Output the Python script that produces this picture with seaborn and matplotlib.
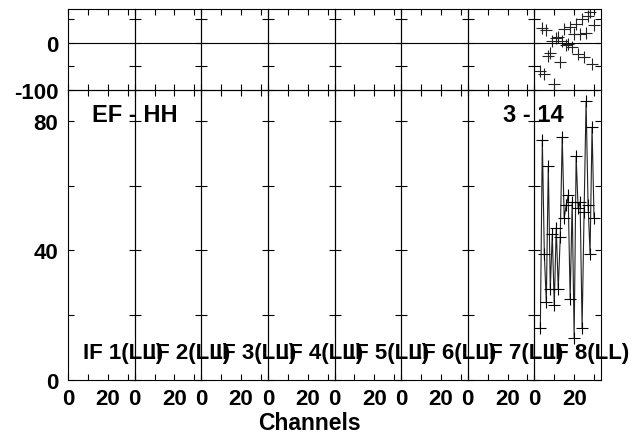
import numpy as np
import pandas as pd
import seaborn as sns
import matplotlib.pyplot as plt
from matplotlib.ticker import MultipleLocator

# Data (only IF 8 has data)
channels = [3, 4, 5, 6, 7, 8, 9, 10, 11, 12, 13, 14, 15, 16, 17, 18, 19, 20,
            21, 22, 23, 24, 25, 26, 27, 28, 29, 30]
amplitude = [16, 74, 39, 24, 66, 28, 45, 23, 47, 28, 44, 75, 50, 54, 57, 25,
             55, 13, 69, 53, 55, 16, 52, 86, 54, 39, 78, 50]
phase = [-60, 32, -66, 28, -27, -22, 5, -87, 10, 13, -40, 3, 30, -5, -2, 33,
         -9, 18, 40, -23, 18, 51, -30, 20, 58, 65, -45, 37]
if_labels = ['IF 1(LL)', 'IF 2(LL)', 'IF 3(LL)', 'IF 4(LL)',
             'IF 5(LL)', 'IF 6(LL)', 'IF 7(LL)', 'IF 8(LL)']

df = pd.DataFrame({'channel': channels, 'amp': amplitude, 'phase': phase})

sns.set_theme(style='ticks')
plt.rcParams['font.family'] = ['Liberation Sans', 'DejaVu Sans']
plt.rcParams['font.weight'] = 'bold'
plt.rcParams['axes.unicode_minus'] = False
for k in ('text.color', 'axes.labelcolor', 'xtick.color', 'ytick.color'):
    plt.rcParams[k] = 'black'

fig = plt.figure(figsize=(6.39, 4.35), dpi=100)
gs = fig.add_gridspec(2, 8, height_ratios=[81, 290],
                      left=68/639, right=601/639, top=1-10/435, bottom=1-381/435,
                      wspace=0, hspace=0)

fs = 16
for i, lab in enumerate(if_labels):
    axp = fig.add_subplot(gs[0, i])
    axa = fig.add_subplot(gs[1, i])
    for ax in (axp, axa):
        ax.patch.set_visible(False)
        ax.set_xlim(0, 33.5)
        ax.xaxis.set_major_locator(MultipleLocator(20))
        ax.xaxis.set_minor_locator(MultipleLocator(10))
        ax.tick_params(which='both', direction='in', top=True, right=True,
                       length=4, width=0.8, color='black', labelsize=fs)
        ax.tick_params(axis='x', pad=6)
        ax.tick_params(axis='y', pad=7)
        for s in ax.spines.values():
            s.set_color('black')
            s.set_linewidth(0.8)
    axp.set_ylim(-100, 72)
    axp.yaxis.set_major_locator(MultipleLocator(100))
    axp.yaxis.set_minor_locator(MultipleLocator(50))
    axp.axhline(0, color='black', lw=0.8)
    axp.tick_params(labelbottom=False)
    axa.set_ylim(0, 89.5)
    axa.yaxis.set_major_locator(MultipleLocator(40))
    axa.yaxis.set_minor_locator(MultipleLocator(20))
    if i > 0:
        axp.tick_params(labelleft=False)
        axa.tick_params(labelleft=False)

    if i == 7:
        sns.lineplot(data=df, x='channel', y='amp', ax=axa, color='#222222',
                     lw=0.8, marker='+', markersize=9, markeredgewidth=0.8,
                     markeredgecolor='black')
        sns.scatterplot(data=df, x='channel', y='phase', ax=axp, marker='+',
                        s=80, color='#222222', linewidth=0.8)
        axa.set_xlim(0, 33.5)
        axp.set_xlim(0, 33.5)
        axa.text(14.5, 81.9, '3 - 14', ha='right', va='center', fontsize=17,
                 fontweight='bold', clip_on=False, zorder=10)
    for ax in (axp, axa):
        ax.set_xlabel('')
        ax.set_ylabel('')
        for t in ax.get_xticklabels() + ax.get_yticklabels():
            t.set_fontweight('bold')
    if i == 0:
        axa.text(12, 81.9, 'EF - HH', ha='left', va='center', fontsize=17,
                 fontweight='bold', clip_on=False, zorder=10)
    axa.text(7.5, 8.4, lab, ha='left', va='center', fontsize=fs,
             fontweight='bold', clip_on=False, zorder=10)

fig.text(309.5 / 639, 1 - 424/435, 'Channels', ha='center', va='center',
         fontsize=16.5, fontweight='bold')

fig.savefig('out.png', dpi=100)
